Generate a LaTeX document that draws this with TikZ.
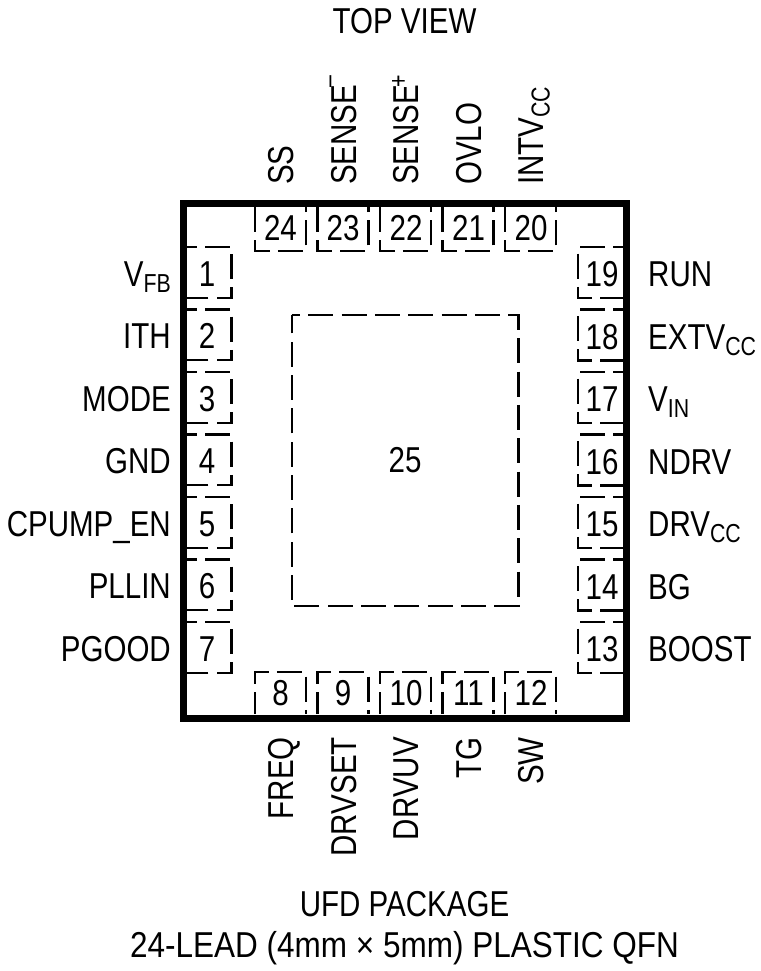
\documentclass[tikz,border=0pt]{standalone}
\usepackage{fontspec}
\setmainfont[FakeStretch=0.82]{Liberation Sans}
\newfontfamily\leadfont[FakeStretch=0.875]{Liberation Sans}
\usepackage{tikz}
\newcommand{\pinsub}[1]{\raisebox{-6pt}{\fontsize{26}{26}\selectfont #1}}
\newcommand{\pinsup}[2]{\hspace{-3pt}\raisebox{#1}{\fontsize{26}{26}\selectfont #2}}

\begin{document}
\begin{tikzpicture}[x=1pt,y=-1pt,
	pinlabel/.style={font=\fontsize{36}{40}\selectfont, inner sep=0pt},
	padnum/.style={pinlabel, anchor=base},
	padline/.style={line width=2.2pt, dash pattern=on 25pt off 8.33pt, dash phase=15pt},
	padlinetop/.style={padline, dash phase=0pt},
	padlinebot/.style={padline, dash phase=3pt}]

	\useasboundingbox (0,0) rectangle (760,971);

	%package outline
	\draw[line width=7pt] (183.5,203.5) rectangle (626.5,718);

	%exposed pad
	\draw[padline, dash phase=16.7pt] (291.7,315) -- (518.4,315) -- (518.4,605.7) -- (291.7,605.7) -- cycle;
	\node[pinlabel, anchor=base] (n25) at (405,472){25};

	%left pads
	\draw[padline] (187,247) -- (231.5,247) -- (231.5,297.6) -- (187,297.6);
	\draw[padline] (187,309.5) -- (231.5,309.5) -- (231.5,360.1) -- (187,360.1);
	\draw[padline] (187,372) -- (231.5,372) -- (231.5,422.6) -- (187,422.6);
	\draw[padline] (187,434.5) -- (231.5,434.5) -- (231.5,485.1) -- (187,485.1);
	\draw[padline] (187,497) -- (231.5,497) -- (231.5,547.6) -- (187,547.6);
	\draw[padline] (187,559.5) -- (231.5,559.5) -- (231.5,610.1) -- (187,610.1);
	\draw[padline] (187,622) -- (231.5,622) -- (231.5,672.6) -- (187,672.6);

	%right pads
	\draw[padline] (623,247) -- (578,247) -- (578,298) -- (623,298);
	\draw[padline] (623,309.5) -- (578,309.5) -- (578,360.5) -- (623,360.5);
	\draw[padline] (623,372) -- (578,372) -- (578,423) -- (623,423);
	\draw[padline] (623,434.5) -- (578,434.5) -- (578,485.5) -- (623,485.5);
	\draw[padline] (623,497) -- (578,497) -- (578,548) -- (623,548);
	\draw[padline] (623,559.5) -- (578,559.5) -- (578,610.5) -- (623,610.5);
	\draw[padline] (623,622) -- (578,622) -- (578,673) -- (623,673);

	%top pads
	\draw[padlinetop] (255,207) -- (255,250.7) -- (306,250.7) -- (306,207);
	\draw[padlinetop] (317.5,207) -- (317.5,250.7) -- (368.5,250.7) -- (368.5,207);
	\draw[padlinetop] (380,207) -- (380,250.7) -- (431,250.7) -- (431,207);
	\draw[padlinetop] (442.5,207) -- (442.5,250.7) -- (493.5,250.7) -- (493.5,207);
	\draw[padlinetop] (505,207) -- (505,250.7) -- (556,250.7) -- (556,207);

	%bottom pads
	\draw[padlinebot] (255,714) -- (255,672.3) -- (306,672.3) -- (306,714);
	\draw[padlinebot] (317.5,714) -- (317.5,672.3) -- (368.5,672.3) -- (368.5,714);
	\draw[padlinebot] (380,714) -- (380,672.3) -- (431,672.3) -- (431,714);
	\draw[padlinebot] (442.5,714) -- (442.5,672.3) -- (493.5,672.3) -- (493.5,714);
	\draw[padlinebot] (505,714) -- (505,672.3) -- (556,672.3) -- (556,714);

	%pad numbers
	\node[padnum] (n1) at (207,286){1};
	\node[padnum] (n2) at (207,348.5){2};
	\node[padnum] (n3) at (207,411){3};
	\node[padnum] (n4) at (207,473.5){4};
	\node[padnum] (n5) at (207,536){5};
	\node[padnum] (n6) at (207,598.5){6};
	\node[padnum] (n7) at (207,661){7};
	\node[padnum] (n8) at (280.5,705.7){8};
	\node[padnum] (n9) at (343,705.7){9};
	\node[padnum] (n10) at (406,705.7){10};
	\node[padnum] (n11) at (468.5,705.7){11};
	\node[padnum] (n12) at (531,705.7){12};
	\node[padnum] (n13) at (602,661.5){13};
	\node[padnum] (n14) at (602,599){14};
	\node[padnum] (n15) at (602,536.5){15};
	\node[padnum] (n16) at (602,474){16};
	\node[padnum] (n17) at (602,411.5){17};
	\node[padnum] (n18) at (602,349){18};
	\node[padnum] (n19) at (602,286.5){19};
	\node[padnum] (n20) at (531,240){20};
	\node[padnum] (n21) at (468.5,240){21};
	\node[padnum] (n22) at (406,240){22};
	\node[padnum] (n23) at (343,240){23};
	\node[padnum] (n24) at (280.5,240){24};

	%left labels
	\node[pinlabel, anchor=base east] (vfb) at (171,286){V\pinsub{FB}};
	\node[pinlabel, anchor=base east] (ith) at (171,348.5){ITH};
	\node[pinlabel, anchor=base east] (mode) at (171,411){MODE};
	\node[pinlabel, anchor=base east] (gnd) at (171,473.5){GND};
	\node[pinlabel, anchor=base east] (cpump) at (171,536){CPUMP\_EN};
	\node[pinlabel, anchor=base east] (pllin) at (171,598.5){PLLIN};
	\node[pinlabel, anchor=base east] (pgood) at (171,661){PGOOD};

	%right labels
	\node[pinlabel, anchor=base west] (run) at (648,286.5){RUN};
	\node[pinlabel, anchor=base west] (extvcc) at (648,349){EXTV\pinsub{CC}};
	\node[pinlabel, anchor=base west] (vin) at (648,411.5){V\pinsub{IN}};
	\node[pinlabel, anchor=base west] (ndrv) at (648,474){NDRV};
	\node[pinlabel, anchor=base west] (drvcc) at (648,536.5){DRV\pinsub{CC}};
	\node[pinlabel, anchor=base west] (bg) at (648,599){BG};
	\node[pinlabel, anchor=base west] (boost) at (648,661.5){BOOST};

	%top labels
	\node[pinlabel, rotate=90, anchor=base west] (ss) at (293.5,185){SS};
	\node[pinlabel, rotate=90, anchor=base west] (sensem) at (356,185){SENSE\pinsup{19pt}{--}};
	\node[pinlabel, rotate=90, anchor=base west] (sensep) at (418.5,185){SENSE\pinsup{11.5pt}{+}};
	\node[pinlabel, rotate=90, anchor=base west] (ovlo) at (481,185){OVLO};
	\node[pinlabel, rotate=90, anchor=base west] (intvcc) at (543.5,185){INTV\pinsub{CC}};

	%bottom labels
	\node[pinlabel, rotate=90, anchor=base east] (freq) at (293.5,737){FREQ};
	\node[pinlabel, rotate=90, anchor=base east] (drvset) at (356,737){DRVSET};
	\node[pinlabel, rotate=90, anchor=base east] (drvuv) at (418.5,737){DRVUV};
	\node[pinlabel, rotate=90, anchor=base east] (tg) at (481,737){TG};
	\node[pinlabel, rotate=90, anchor=base east] (sw) at (543.5,737){SW};

	%titles
	\node[pinlabel, anchor=base] (topview) at (404.5,34){TOP VIEW};
	\node[pinlabel, anchor=base] (pkg) at (404.5,916){UFD PACKAGE};
	\node[pinlabel, anchor=base] (lead) at (404.5,957){\leadfont 24-LEAD (4mm × 5mm) PLASTIC QFN};

\end{tikzpicture}
\end{document}
